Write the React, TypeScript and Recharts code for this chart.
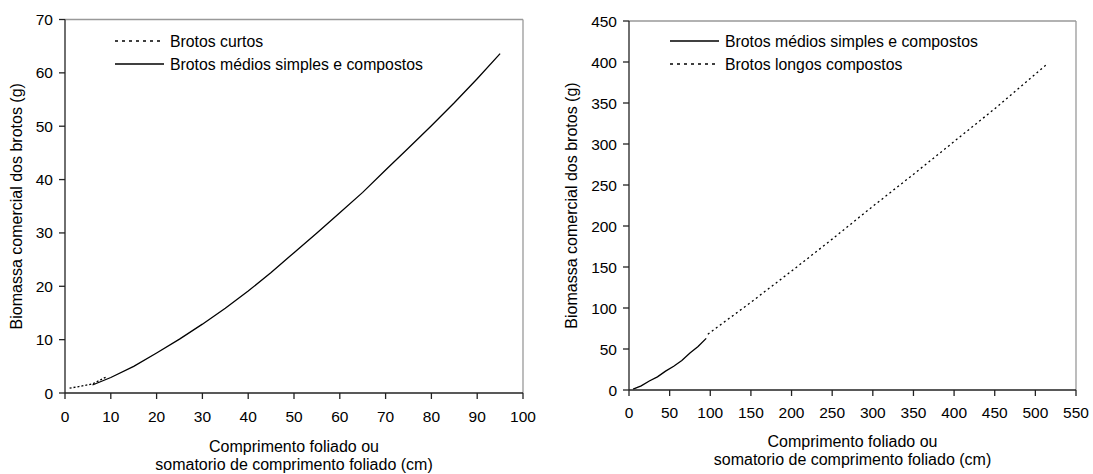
import React from 'react';
import { LineChart, Line, XAxis, YAxis, ReferenceLine, Legend, Label } from 'recharts';

const FONT = '"Liberation Sans", Arial, Helvetica, sans-serif';

// ---- Left chart data ----
const leftXTicks = [0, 10, 20, 30, 40, 50, 60, 70, 80, 90, 100];
const leftYTicks = [0, 10, 20, 30, 40, 50, 60, 70];
const curtosX = [1, 3, 6, 9];
const curtosY = [0.9, 1.2, 1.7, 3.0];
const mediosLeftX = [6, 10, 15, 20, 25, 30, 35, 40, 45, 50, 55, 60, 65, 70, 75, 80, 85, 90, 95];
const mediosLeftY = [1.5, 2.9, 5.0, 7.5, 10.1, 12.9, 15.9, 19.1, 22.6, 26.3, 30.0, 33.8, 37.6, 41.8, 45.9, 50.1, 54.4, 58.9, 63.6];

// ---- Right chart data ----
const rightXTicks = [0, 50, 100, 150, 200, 250, 300, 350, 400, 450, 500, 550];
const rightYTicks = [0, 50, 100, 150, 200, 250, 300, 350, 400, 450];
const mediosRightX = [5, 15, 25, 35, 45, 55, 65, 75, 85, 95];
const mediosRightY = [1, 5, 11, 16, 23, 29, 36, 45, 53, 63];
const longosX = [97, 150, 200, 250, 300, 350, 400, 450, 515];
const longosY = [68, 107, 145, 184, 224, 263, 303, 343, 398];

const xTitle1 = 'Comprimento foliado ou';
const xTitle2 = 'somatorio de comprimento foliado (cm)';
const yTitle = 'Biomassa comercial dos brotos (g)';

const zip = (xs: number[], ys: number[]) => xs.map((x, i) => ({ x, y: ys[i] }));

const FS = 15.5;
const TFS = 16;
const tickStyle = { fill: '#000', fontSize: FS, fontFamily: FONT };

type LegendItem = { label: string; dash?: string };

const LegendBox = ({ items }: { items: LegendItem[] }) => (
  <svg width={340} height={50} style={{ display: 'block', overflow: 'visible' }}>
    {items.map((it, i) => (
      <g key={i}>
        <line
          x1={0}
          x2={49}
          y1={11 + i * 23}
          y2={11 + i * 23}
          stroke="#000"
          strokeWidth={1.3}
          strokeDasharray={it.dash}
        />
        <text x={55} y={11 + i * 23} dominantBaseline="central" fontSize={15.8} fontFamily={FONT} fill="#000">
          {it.label}
        </text>
      </g>
    ))}
  </svg>
);

const yTitleContent = (dxFromPlot: number) => (props: any) => {
  const vb = props.viewBox || {};
  const cx = vb.x + vb.width - dxFromPlot;
  const cy = vb.y + vb.height / 2;
  return (
    <text
      x={cx}
      y={cy}
      transform={`rotate(-90, ${cx}, ${cy})`}
      textAnchor="middle"
      dominantBaseline="central"
      fontSize={TFS}
      fontFamily={FONT}
      fill="#000"
    >
      {yTitle}
    </text>
  );
};

const xTitleContent = (b1: number) => (props: any) => {
  const vb = props.viewBox || {};
  const cx = vb.x + vb.width / 2;
  return (
    <g>
      <text x={cx} y={vb.y + b1} textAnchor="middle" fontSize={TFS} fontFamily={FONT} fill="#000">
        {xTitle1}
      </text>
      <text x={cx} y={vb.y + b1 + 18} textAnchor="middle" fontSize={TFS} fontFamily={FONT} fill="#000">
        {xTitle2}
      </text>
    </g>
  );
};

const AXIS = '#222';
const BORDER = '#999';

const LeftChart = () => (
  <LineChart width={546} height={474} margin={{ top: 19.5, right: 23, bottom: 51, left: 20 }}>
    <XAxis
      type="number"
      dataKey="x"
      domain={[0, 100]}
      ticks={leftXTicks}
      interval={0}
      height={30}
      tick={tickStyle}
      tickSize={6}
      tickMargin={12}
      axisLine={{ stroke: AXIS, strokeWidth: 1.3 }}
      tickLine={{ stroke: AXIS, strokeWidth: 1.3 }}
    >
      <Label content={xTitleContent(58.5)} />
    </XAxis>
    <YAxis
      type="number"
      domain={[0, 70]}
      ticks={leftYTicks}
      interval={0}
      width={45}
      tick={tickStyle}
      tickSize={6}
      tickMargin={6}
      axisLine={{ stroke: AXIS, strokeWidth: 1.3 }}
      tickLine={{ stroke: AXIS, strokeWidth: 1.3 }}
    >
      <Label content={yTitleContent(49)} />
    </YAxis>
    <ReferenceLine y={70} stroke={BORDER} strokeWidth={1.3} />
    <ReferenceLine x={100} stroke={BORDER} strokeWidth={1.3} />
    <Legend
      layout="vertical"
      align="center"
      verticalAlign="middle"
      wrapperStyle={{ position: 'absolute', left: 115, top: 30, width: 340, height: 50 }}
      content={() => (
        <LegendBox
          items={[
            { label: 'Brotos curtos', dash: '3 4' },
            { label: 'Brotos médios simples e compostos' },
          ]}
        />
      )}
    />
    <Line
      data={zip(curtosX, curtosY)}
      dataKey="y"
      type="linear"
      stroke="#000"
      strokeWidth={1.3}
      strokeDasharray="2 2"
      dot={false}
      activeDot={false}
      isAnimationActive={false}
      name="Brotos curtos"
    />
    <Line
      data={zip(mediosLeftX, mediosLeftY)}
      dataKey="y"
      type="linear"
      stroke="#000"
      strokeWidth={1.3}
      dot={false}
      activeDot={false}
      isAnimationActive={false}
      name="Brotos médios simples e compostos"
    />
  </LineChart>
);

const RightChart = () => (
  <LineChart width={547} height={474} margin={{ top: 21, right: 17, bottom: 54, left: 23 }}>
    <XAxis
      type="number"
      dataKey="x"
      domain={[0, 550]}
      ticks={rightXTicks}
      interval={0}
      height={30}
      tick={tickStyle}
      tickSize={6}
      tickMargin={11}
      axisLine={{ stroke: AXIS, strokeWidth: 1.3 }}
      tickLine={{ stroke: AXIS, strokeWidth: 1.3 }}
    >
      <Label content={xTitleContent(57)} />
    </XAxis>
    <YAxis
      type="number"
      domain={[0, 450]}
      ticks={rightYTicks}
      interval={0}
      width={60}
      tick={tickStyle}
      tickSize={6}
      tickMargin={6}
      axisLine={{ stroke: AXIS, strokeWidth: 1.3 }}
      tickLine={{ stroke: AXIS, strokeWidth: 1.3 }}
    >
      <Label content={yTitleContent(58)} />
    </YAxis>
    <ReferenceLine y={450} stroke={BORDER} strokeWidth={1.3} />
    <ReferenceLine x={550} stroke={BORDER} strokeWidth={1.3} />
    <Legend
      layout="vertical"
      align="center"
      verticalAlign="middle"
      wrapperStyle={{ position: 'absolute', left: 124, top: 30, width: 340, height: 50 }}
      content={() => (
        <LegendBox
          items={[
            { label: 'Brotos médios simples e compostos' },
            { label: 'Brotos longos compostos', dash: '3 4' },
          ]}
        />
      )}
    />
    <Line
      data={zip(mediosRightX, mediosRightY)}
      dataKey="y"
      type="linear"
      stroke="#000"
      strokeWidth={1.3}
      dot={false}
      activeDot={false}
      isAnimationActive={false}
      name="Brotos médios simples e compostos"
    />
    <Line
      data={zip(longosX, longosY)}
      dataKey="y"
      type="linear"
      stroke="#000"
      strokeWidth={1.3}
      strokeDasharray="2 3"
      dot={false}
      activeDot={false}
      isAnimationActive={false}
      name="Brotos longos compostos"
    />
  </LineChart>
);

export default function App() {
  return (
    <div style={{ position: 'absolute', left: 0, top: 0, width: 1093, height: 474, background: '#fff' }}>
      <div style={{ position: 'absolute', left: 0, top: 0 }}>
        <LeftChart />
      </div>
      <div style={{ position: 'absolute', left: 546, top: 0 }}>
        <RightChart />
      </div>
    </div>
  );
}
